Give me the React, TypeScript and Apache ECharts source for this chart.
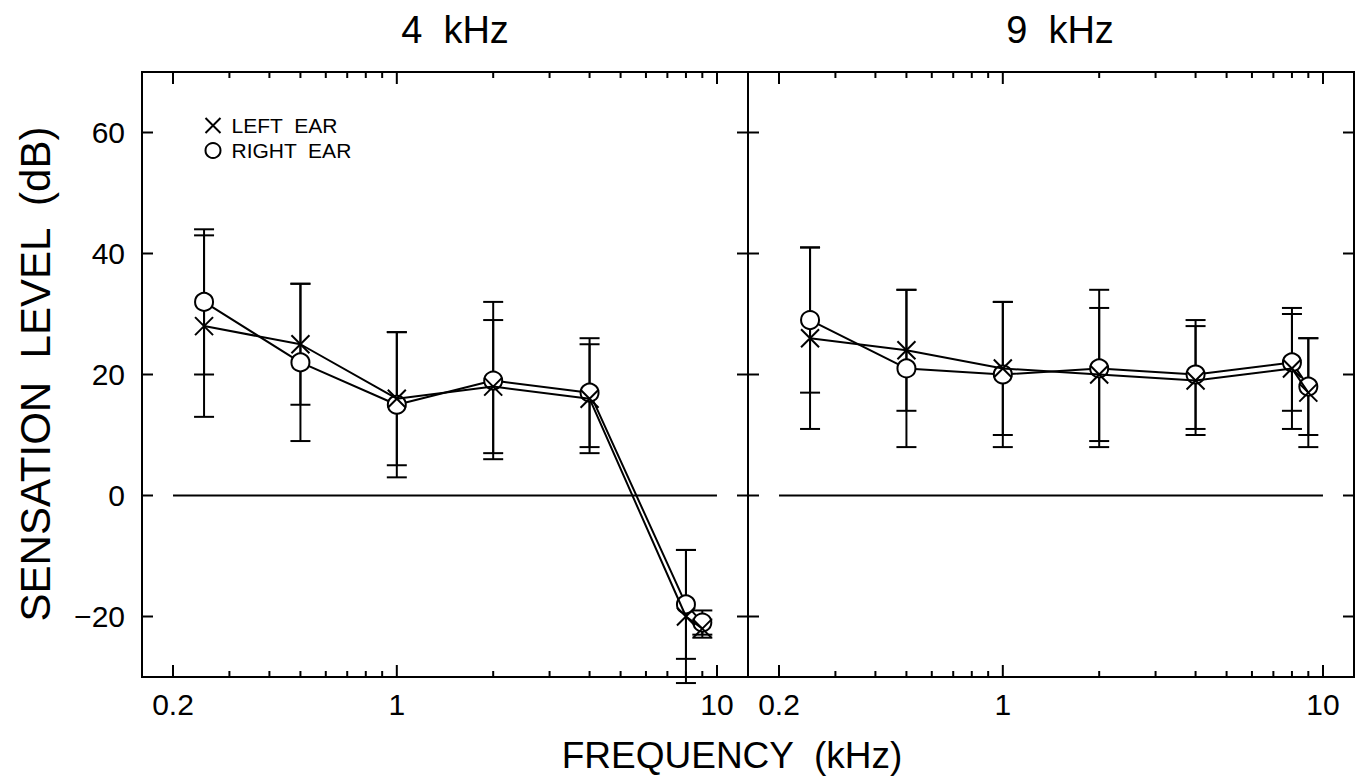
import React, { useEffect, useRef } from "react";
import * as echarts from "echarts";

// ---- data ----
const FREQS = [0.25, 0.5, 1, 2, 4, 8, 9];

// 4 kHz panel
const LEFT_4 = [28, 25, 16, 18, 16, -20, -22];
const LEFT_4_LO = [13, 15, 5, 7, 7, -31, -23.5];
const LEFT_4_HI = [43, 35, 27, 29, 25, -9, -20.5];
const RIGHT_4 = [32, 22, 15, 19, 17, -18, -21];
const RIGHT_4_LO = [20, 9, 3, 6, 8, -27, -23];
const RIGHT_4_HI = [44, 35, 27, 32, 26, -9, -19];

// 9 kHz panel
const LEFT_9 = [26, 24, 21, 20, 19, 21, 17];
const LEFT_9_LO = [11, 14, 10, 9, 10, 11, 8];
const LEFT_9_HI = [41, 34, 32, 31, 28, 31, 26];
const RIGHT_9 = [29, 21, 20, 21, 20, 22, 18];
const RIGHT_9_LO = [17, 8, 8, 8, 11, 14, 10];
const RIGHT_9_HI = [41, 34, 32, 34, 29, 30, 26];

const X_TICKS = [0.2, 0.3, 0.4, 0.5, 0.6, 0.7, 0.8, 0.9, 1, 2, 3, 4, 5, 6, 7, 8, 9, 10];
const X_LABELS = [0.2, 1, 10];
const Y_TICKS = [-20, 0, 20, 40, 60];
const X_RANGE = [0.16, 12.5];
const Y_RANGE = [-30, 70];
const ZERO_LINE_X = [0.2, 10];
const PANEL_TITLES = ["4  kHz", "9  kHz"];
const LEGEND_NAMES = ["LEFT  EAR", "RIGHT  EAR"];
const X_TITLE = "FREQUENCY  (kHz)";
const Y_TITLE = "SENSATION  LEVEL  (dB)";

const FONT = "Liberation Sans, Arial, sans-serif";
const X_PATH = "path://M0,0L10,10M10,0L0,10";

const zip = (xs: number[], ys: number[]) => xs.map((x, i) => [x, ys[i]]);
const zip3 = (xs: number[], a: number[], b: number[]) => xs.map((x, i) => [x, a[i], b[i]]);

const fmtNum = (v: number) => (v < 0 ? "\u2212" + String(-v) : String(v));

function errorBarSeries(idx: number, data: number[][], z: number) {
  return {
    type: "custom",
    xAxisIndex: idx,
    yAxisIndex: idx,
    z,
    clip: false,
    silent: true,
    encode: { x: 0, y: [1, 2] },
    data,
    renderItem: (_p: any, api: any) => {
      const x = api.value(0);
      const a = api.coord([x, api.value(1)]);
      const b = api.coord([x, api.value(2)]);
      const w = 10;
      const st = { stroke: "#000", lineWidth: 2 };
      return {
        type: "group",
        children: [
          { type: "line", shape: { x1: a[0], y1: a[1], x2: b[0], y2: b[1] }, style: st },
          { type: "line", shape: { x1: a[0] - w, y1: a[1], x2: a[0] + w, y2: a[1] }, style: st },
          { type: "line", shape: { x1: b[0] - w, y1: b[1], x2: b[0] + w, y2: b[1] }, style: st },
        ],
      };
    },
  };
}

function xTickSeries(idx: number) {
  return {
    type: "custom",
    xAxisIndex: idx,
    yAxisIndex: idx,
    z: 1,
    clip: false,
    silent: true,
    encode: { x: 0, y: 1 },
    data: X_TICKS.map((v) => [v, X_LABELS.includes(v) ? 1 : 0]),
    renderItem: (_p: any, api: any) => {
      const v = api.value(0);
      const major = api.value(1) === 1;
      const len = major ? 12 : 6;
      const b = api.coord([v, Y_RANGE[0]]);
      const t = api.coord([v, Y_RANGE[1]]);
      const st = { stroke: "#000", lineWidth: 2 };
      const children: any[] = [
        { type: "line", shape: { x1: b[0], y1: b[1], x2: b[0], y2: b[1] - len }, style: st },
        { type: "line", shape: { x1: t[0], y1: t[1], x2: t[0], y2: t[1] + len }, style: st },
      ];
      if (major) {
        children.push({
          type: "text",
          x: b[0],
          y: b[1] + 27,
          style: {
            text: String(v),
            fill: "#000",
            font: `30px ${FONT}`,
            textAlign: "center",
            textVerticalAlign: "middle",
          },
        });
      }
      return { type: "group", children };
    },
  };
}

function yTickSeries(idx: number, withLabels: boolean) {
  return {
    type: "custom",
    xAxisIndex: idx,
    yAxisIndex: idx,
    z: 1,
    clip: false,
    silent: true,
    encode: { x: 0, y: 1 },
    data: Y_TICKS.map((v) => [X_RANGE[0], v]),
    renderItem: (_p: any, api: any) => {
      const v = api.value(1);
      const l = api.coord([X_RANGE[0], v]);
      const r = api.coord([X_RANGE[1], v]);
      const len = 11;
      const st = { stroke: "#000", lineWidth: 2 };
      const children: any[] = [
        { type: "line", shape: { x1: l[0], y1: l[1], x2: l[0] + len, y2: l[1] }, style: st },
        { type: "line", shape: { x1: r[0], y1: r[1], x2: r[0] - len, y2: r[1] }, style: st },
      ];
      if (withLabels) {
        children.push({
          type: "text",
          x: l[0] - 17,
          y: l[1],
          style: {
            text: fmtNum(v),
            fill: "#000",
            font: `30px ${FONT}`,
            textAlign: "right",
            textVerticalAlign: "middle",
          },
        });
      }
      return { type: "group", children };
    },
  };
}

function panelSeries(
  idx: number,
  left: number[],
  leftLo: number[],
  leftHi: number[],
  right: number[],
  rightLo: number[],
  rightHi: number[]
) {
  return [
    xTickSeries(idx),
    yTickSeries(idx, idx === 0),
    {
      type: "line",
      xAxisIndex: idx,
      yAxisIndex: idx,
      z: 1,
      silent: true,
      symbol: "none",
      data: ZERO_LINE_X.map((x) => [x, 0]),
      lineStyle: { color: "#000", width: 2 },
    },
    errorBarSeries(idx, zip3(FREQS, rightLo, rightHi), 2),
    errorBarSeries(idx, zip3(FREQS, leftLo, leftHi), 2),
    {
      name: LEGEND_NAMES[1],
      type: "line",
      xAxisIndex: idx,
      yAxisIndex: idx,
      z: 3,
      data: zip(FREQS, right),
      symbol: "circle",
      symbolSize: 18,
      showSymbol: true,
      itemStyle: { color: "#fff", borderColor: "#000", borderWidth: 2 },
      lineStyle: { color: "#000", width: 2 },
    },
    {
      name: LEGEND_NAMES[0],
      type: "line",
      xAxisIndex: idx,
      yAxisIndex: idx,
      z: 4,
      data: zip(FREQS, left),
      symbol: X_PATH,
      symbolSize: 18,
      showSymbol: true,
      itemStyle: { color: "none", borderColor: "#000", borderWidth: 2 },
      lineStyle: { color: "#000", width: 2 },
    },
  ];
}

export default function App() {
  const ref = useRef<HTMLDivElement>(null);

  useEffect(() => {
    if (!ref.current) return;
    const chart = echarts.init(ref.current, undefined, { renderer: "svg" });

    const grids = [
      { left: 142, top: 72, width: 606, height: 605 },
      { left: 748, top: 72, width: 606, height: 605 },
    ].map((g) => ({ ...g, show: true, borderColor: "#000", borderWidth: 2, backgroundColor: "transparent" }));

    const hiddenAxis = {
      axisLine: { show: false },
      axisTick: { show: false },
      axisLabel: { show: false },
      splitLine: { show: false },
    };

    const titleStyle = (text: string, size: number) => ({
      text,
      font: `${size}px ${FONT}`,
      fill: "#000",
      textAlign: "center",
      textVerticalAlign: "middle",
    });

    const option: any = {
      animation: false,
      backgroundColor: "#fff",
      grid: grids,
      xAxis: [0, 1].map((i) => ({
        type: "log",
        logBase: 10,
        gridIndex: i,
        min: X_RANGE[0],
        max: X_RANGE[1],
        ...hiddenAxis,
      })),
      yAxis: [0, 1].map((i) => ({
        type: "value",
        gridIndex: i,
        min: Y_RANGE[0],
        max: Y_RANGE[1],
        ...hiddenAxis,
      })),
      legend: {
        orient: "vertical",
        left: 198,
        top: 110,
        itemWidth: 15,
        itemHeight: 15,
        itemGap: 4,
        selectedMode: false,
        textStyle: { fontFamily: FONT, fontSize: 21, color: "#000", padding: [0, 0, 0, 6], lineHeight: 21 },
        data: [
          {
            name: LEGEND_NAMES[0],
            icon: X_PATH,
            itemStyle: { color: "none", borderColor: "#000", borderWidth: 2 },
          },
          {
            name: LEGEND_NAMES[1],
            icon: "circle",
            itemStyle: { color: "#fff", borderColor: "#000", borderWidth: 2 },
          },
        ],
      },
      graphic: [
        { type: "text", x: 455, y: 30, style: titleStyle(PANEL_TITLES[0], 38) },
        { type: "text", x: 1060, y: 30, style: titleStyle(PANEL_TITLES[1], 38) },
        { type: "text", x: 732, y: 755, style: titleStyle(X_TITLE, 37) },
        { type: "text", x: 35, y: 374, rotation: Math.PI / 2, style: titleStyle(Y_TITLE, 42) },
      ],
      series: [
        ...panelSeries(0, LEFT_4, LEFT_4_LO, LEFT_4_HI, RIGHT_4, RIGHT_4_LO, RIGHT_4_HI),
        ...panelSeries(1, LEFT_9, LEFT_9_LO, LEFT_9_HI, RIGHT_9, RIGHT_9_LO, RIGHT_9_HI),
      ],
    };

    chart.setOption(option);
    return () => chart.dispose();
  }, []);

  return (
    <div
      ref={ref}
      style={{ position: "fixed", left: 0, top: 0, width: 1363, height: 779, background: "#fff" }}
    />
  );
}
